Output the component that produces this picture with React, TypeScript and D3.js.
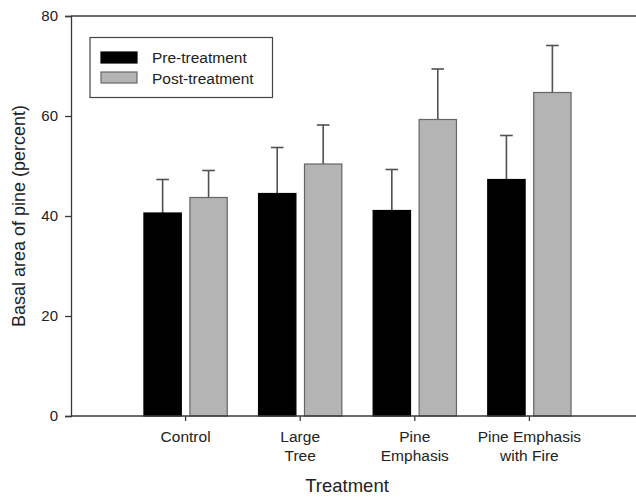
import { useEffect, useRef } from 'react';
import * as d3 from 'd3';

const categories = ['Control', 'Large Tree', 'Pine Emphasis', 'Pine Emphasis with Fire'];
const categoryLines = [['Control'], ['Large', 'Tree'], ['Pine', 'Emphasis'], ['Pine Emphasis', 'with Fire']];
const preValues = [40.6, 44.5, 41.1, 47.3];
const preErrors = [6.7, 9.2, 8.2, 8.8];
const postValues = [43.7, 50.4, 59.3, 64.7];
const postErrors = [5.4, 7.8, 10.1, 9.4];
const yTicks = [0, 20, 40, 60, 80];
const seriesNames = ['Pre-treatment', 'Post-treatment'];

const WIDTH = 636;
const HEIGHT = 498;
const FONT = "'Liberation Sans', Arial, sans-serif";
const AXIS = '#3a3a3a';
const GRAY = '#b4b4b4';

export default function App() {
  const svgRef = useRef<SVGSVGElement>(null);

  useEffect(() => {
    if (!svgRef.current) return;
    const svg = d3.select(svgRef.current);
    svg.selectAll('*').remove();

    const left = 71;
    const top = 16;
    const bottom = 416;

    const x = d3.scalePoint<string>().domain(categories).range([left, 644]).padding(1);
    const y = d3.scaleLinear().domain([0, 80]).range([bottom, top]);
    const step = x.step();
    const barW = step * 0.326;
    const gap = step * 0.0375;

    // frame: top line
    svg.append('line').attr('x1', left).attr('x2', WIDTH).attr('y1', y(80)).attr('y2', y(80))
      .attr('stroke', AXIS).attr('stroke-width', 1.3);

    const series = [
      { values: preValues, errors: preErrors, fill: '#000', stroke: '#000', offset: -gap - barW },
      { values: postValues, errors: postErrors, fill: GRAY, stroke: '#666', offset: gap },
    ];

    series.forEach((s) => {
      const g = svg.append('g');
      // error bars (upper only)
      g.selectAll('line.err')
        .data(categories)
        .join('line')
        .attr('x1', (c) => (x(c) ?? 0) + s.offset + barW / 2)
        .attr('x2', (c) => (x(c) ?? 0) + s.offset + barW / 2)
        .attr('y1', (c, i) => y(s.values[i]))
        .attr('y2', (c, i) => y(s.values[i] + s.errors[i]))
        .attr('stroke', '#505050')
        .attr('stroke-width', 1.6);
      g.selectAll('line.cap')
        .data(categories)
        .join('line')
        .attr('x1', (c) => (x(c) ?? 0) + s.offset + barW / 2 - 6.3)
        .attr('x2', (c) => (x(c) ?? 0) + s.offset + barW / 2 + 6.3)
        .attr('y1', (c, i) => y(s.values[i] + s.errors[i]))
        .attr('y2', (c, i) => y(s.values[i] + s.errors[i]))
        .attr('stroke', '#505050')
        .attr('stroke-width', 1.6);
      g.selectAll('rect')
        .data(categories)
        .join('rect')
        .attr('x', (c) => (x(c) ?? 0) + s.offset)
        .attr('y', (c, i) => y(s.values[i]))
        .attr('width', barW)
        .attr('height', (c, i) => bottom - y(s.values[i]))
        .attr('fill', s.fill)
        .attr('stroke', s.stroke)
        .attr('stroke-width', 1.2);
    });

    // y axis
    svg.append('g')
      .attr('transform', `translate(${left},0)`)
      .call(d3.axisLeft(y).tickValues(yTicks).tickSize(6).tickPadding(7).tickFormat(d3.format('d')))
      .call((group) => {
        group.select('.domain').attr('stroke', AXIS).attr('stroke-width', 1.3);
        group.selectAll('.tick line').attr('stroke', AXIS).attr('stroke-width', 1.3);
        group.selectAll('.tick text').attr('fill', '#222').attr('font-size', 15).attr('font-family', FONT);
      });

    // x axis
    svg.append('line').attr('x1', left).attr('x2', WIDTH).attr('y1', bottom).attr('y2', bottom)
      .attr('stroke', AXIS).attr('stroke-width', 1.3);
    svg.append('g')
      .selectAll('line')
      .data(categories)
      .join('line')
      .attr('x1', (c) => x(c) ?? 0)
      .attr('x2', (c) => x(c) ?? 0)
      .attr('y1', bottom)
      .attr('y2', bottom + 5)
      .attr('stroke', AXIS)
      .attr('stroke-width', 1.3);

    const labels = svg.append('g')
      .selectAll('text')
      .data(categories)
      .join('text')
      .attr('x', (c) => x(c) ?? 0)
      .attr('y', 442)
      .attr('text-anchor', 'middle')
      .attr('fill', '#222')
      .attr('font-size', 15.5)
      .attr('font-family', FONT);
    labels.each(function (c, i) {
      d3.select(this)
        .selectAll('tspan')
        .data(categoryLines[i])
        .join('tspan')
        .attr('x', x(c) ?? 0)
        .attr('dy', (d, j) => (j === 0 ? 0 : 19))
        .text((d) => d);
    });

    // axis titles
    svg.append('text')
      .attr('x', 347)
      .attr('y', 492)
      .attr('text-anchor', 'middle')
      .attr('fill', '#222')
      .attr('font-size', 18.5)
      .attr('font-family', FONT)
      .text('Treatment');
    svg.append('text')
      .attr('transform', `translate(25,${(top + bottom) / 2}) rotate(-90)`)
      .attr('text-anchor', 'middle')
      .attr('fill', '#222')
      .attr('font-size', 18)
      .attr('font-family', FONT)
      .text('Basal area of pine (percent)');

    // legend
    const legend = svg.append('g');
    legend.append('rect')
      .attr('x', 90).attr('y', 37.5).attr('width', 182.5).attr('height', 60)
      .attr('fill', '#fff').attr('stroke', '#444').attr('stroke-width', 1.2);
    const swatchFill = ['#000', GRAY];
    const swatchStroke = ['#000', '#666'];
    seriesNames.forEach((name, i) => {
      legend.append('rect')
        .attr('x', 101).attr('y', 52 + i * 20).attr('width', 36).attr('height', 11)
        .attr('fill', swatchFill[i]).attr('stroke', swatchStroke[i]).attr('stroke-width', 1.2);
      legend.append('text')
        .attr('x', 152).attr('y', 63 + i * 20.6)
        .attr('fill', '#222').attr('font-size', 15.5).attr('font-family', FONT)
        .text(name);
    });
  }, []);

  return (
    <svg
      ref={svgRef}
      width={WIDTH}
      height={HEIGHT}
      viewBox={`0 0 ${WIDTH} ${HEIGHT}`}
      style={{ position: 'absolute', left: 0, top: 0, background: '#fff' }}
    />
  );
}
